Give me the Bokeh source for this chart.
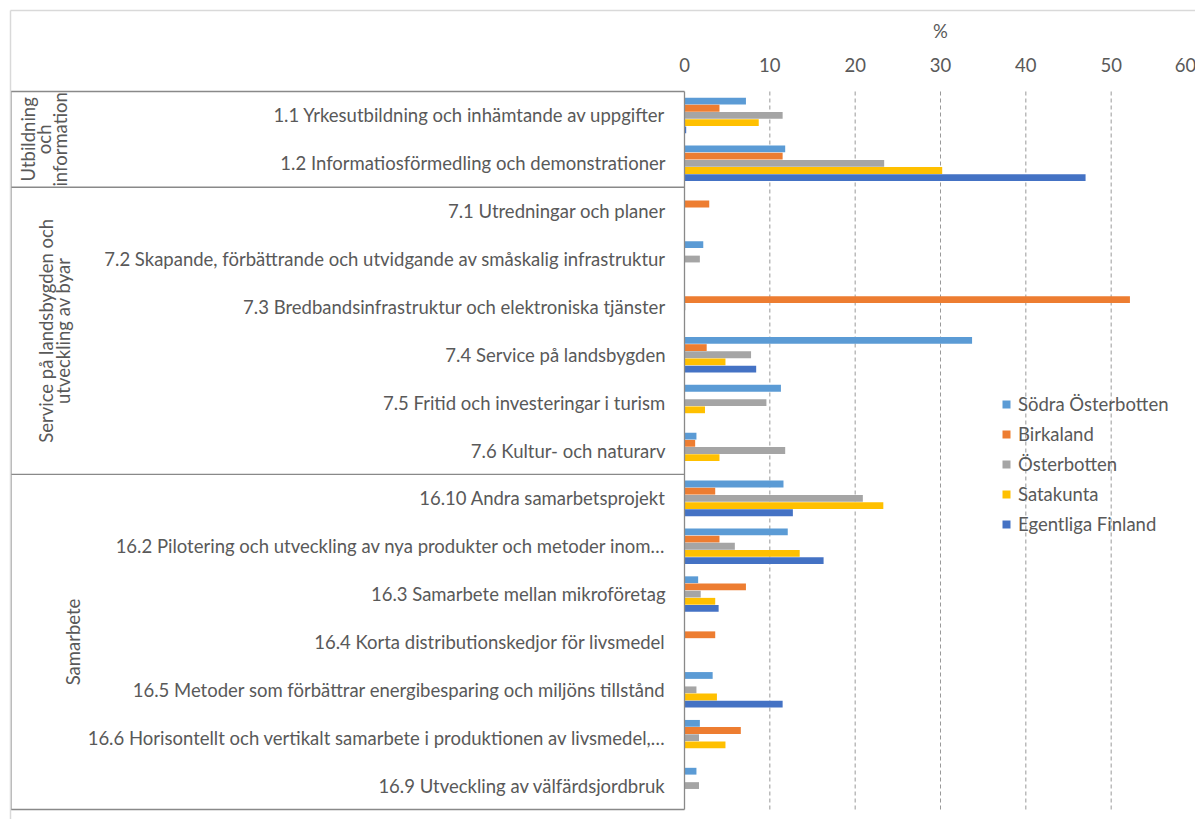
from math import pi
from bokeh.plotting import figure
from bokeh.models import Range1d, ColumnDataSource, Legend, LegendItem
from bokeh.core.properties import value
from bokeh.embed import file_html
from bokeh.resources import INLINE

# ---------------- data ----------------
categories = [
    "1.1 Yrkesutbildning och inhämtande av uppgifter",
    "1.2 Informatiosförmedling och demonstrationer",
    "7.1 Utredningar och planer",
    "7.2 Skapande, förbättrande och utvidgande av småskalig infrastruktur",
    "7.3 Bredbandsinfrastruktur och elektroniska tjänster",
    "7.4 Service på landsbygden",
    "7.5 Fritid och investeringar i turism",
    "7.6 Kultur- och naturarv",
    "16.10 Andra samarbetsprojekt",
    "16.2 Pilotering och utveckling av nya produkter och metoder inom…",
    "16.3 Samarbete mellan mikroföretag",
    "16.4 Korta distributionskedjor för livsmedel",
    "16.5 Metoder som förbättrar energibesparing och miljöns tillstånd",
    "16.6 Horisontellt och vertikalt samarbete i produktionen av livsmedel,…",
    "16.9 Utveckling av välfärdsjordbruk",
]
group_names = [["Utbildning", "och", "information"],
               ["Service på landsbygden och", "utveckling av byar"],
               ["Samarbete"]]
group_sizes = [2, 6, 7]

series = ["Södra Österbotten", "Birkaland", "Österbotten", "Satakunta", "Egentliga Finland"]
sodra       = [7.2, 11.8, 0.0, 2.2, 0.0, 33.7, 11.3, 1.4, 11.6, 12.1, 1.6, 0.0, 3.3, 1.8, 1.4]
birkaland   = [4.1, 11.5, 2.9, 0.0, 52.2, 2.6, 0.0, 1.25, 3.6, 4.1, 7.2, 3.6, 0.0, 6.6, 0.0]
osterbotten = [11.5, 23.4, 0.0, 1.8, 0.1, 7.8, 9.6, 11.8, 20.9, 5.9, 1.9, 0.0, 1.4, 1.7, 1.7]
satakunta   = [8.7, 30.2, 0.0, 0.0, 0.0, 4.8, 2.4, 4.1, 23.3, 13.5, 3.6, 0.0, 3.8, 4.8, 0.0]
egentliga   = [0.2, 47.0, 0.0, 0.0, 0.0, 8.4, 0.0, 0.0, 12.7, 16.3, 4.0, 0.0, 11.5, 0.0, 0.0]
values = [sodra, birkaland, osterbotten, satakunta, egentliga]
colors = ["#5B9BD5", "#ED7D31", "#A5A5A5", "#FFC000", "#4472C4"]

x_ticks = [0, 10, 20, 30, 40, 50, 60]
x_title = "%"

# ---------------- layout ----------------
W, H = 1195, 819
KX = 512 / 60.0           # px per unit
X0 = 684                  # px of x=0
KY = 718 / 15.0           # px per row
Y0 = 91                   # px of y=0

def xd(px):
    return (px - X0) / KX

def yd(py):
    return (py - Y0) / KY

TXT = "#595959"
FONT = "Lato"
FS = "18.5px"

p = figure(width=W, height=H, output_backend="svg", toolbar_location=None,
           x_range=Range1d(xd(0), xd(W)), y_range=Range1d(yd(H), yd(0)),
           min_border=0, min_border_left=0, min_border_right=0,
           min_border_top=0, min_border_bottom=0)
p.axis.visible = False
p.grid.visible = False
p.outline_line_color = None
p.background_fill_color = "white"

n = len(categories)
centers = [i + 0.5 for i in range(n)]

# gridlines
grid_x = [t for t in x_ticks if t > 0]
p.segment(x0=grid_x, x1=grid_x, y0=[0] * len(grid_x), y1=[n] * len(grid_x),
          line_color="#999999", line_width=1, line_dash="4 3")

# bars
bar_h = 0.142
step = 0.15
renderers = []
for k, (name, vals, col) in enumerate(zip(series, values, colors)):
    off = (k - 2) * step
    src = ColumnDataSource(dict(y=[c + off for c in centers], right=vals))
    r = p.hbar(y="y", left=0, right="right", height=bar_h, source=src,
               fill_color=col, line_color=None)
    renderers.append((name, r))

# axis line at 0 and group box
bounds = [0]
for s in group_sizes:
    bounds.append(bounds[-1] + s)
xl = xd(10.5)
p.segment(x0=[xl] * len(bounds), x1=[0] * len(bounds), y0=bounds, y1=bounds,
          line_color="#898989", line_width=1.3)
p.segment(x0=[xl, 0], x1=[xl, 0], y0=[0, 0], y1=[n, n],
          line_color="#898989", line_width=1.3)

# outer frame (top & left)
p.segment(x0=[xd(10), xd(10)], x1=[xd(W), xd(10)], y0=[yd(10), yd(10)], y1=[yd(10), yd(H)],
          line_color="#D9D9D9", line_width=1.5)

# category labels
p.text(x=[xd(665)] * n, y=centers, text=categories,
       text_align="right", text_baseline="middle", text_color=TXT,
       text_font=value(FONT), text_font_size=FS)

# top tick labels and title
tick_px = [X0 + t * KX for t in x_ticks]
tick_px[-1] = min(tick_px[-1], W - 10)
p.text(x=[xd(v) for v in tick_px], y=[yd(64)] * len(x_ticks), text=[str(t) for t in x_ticks],
       text_align="center", text_baseline="middle", text_color=TXT,
       text_font=value(FONT), text_font_size=FS)
p.text(x=[30], y=[yd(30)], text=[x_title],
       text_align="center", text_baseline="middle", text_color=TXT,
       text_font=value(FONT), text_font_size=FS)

# group labels (rotated)
gx_px = [[27, 43, 59], [45, 62], [72]]
for names, xs, a, b in zip(group_names, gx_px, bounds[:-1], bounds[1:]):
    p.text(x=[xd(px) for px in xs], y=[(a + b) / 2] * len(names), text=names,
           angle=pi / 2, text_align="center", text_baseline="middle",
           text_color=TXT, text_font=value(FONT), text_font_size=FS)

# legend
legend = Legend(items=[LegendItem(label=nm, renderers=[r]) for nm, r in renderers],
                location=(1001, 284), orientation="vertical",
                glyph_width=10, glyph_height=10, label_height=22, spacing=8,
                padding=0, margin=0, label_standoff=7,
                label_text_font=FONT, label_text_font_size=FS, label_text_color=TXT,
                background_fill_alpha=0, border_line_color=None)
p.add_layout(legend)

open("out.html", "w").write(file_html(p, INLINE))
